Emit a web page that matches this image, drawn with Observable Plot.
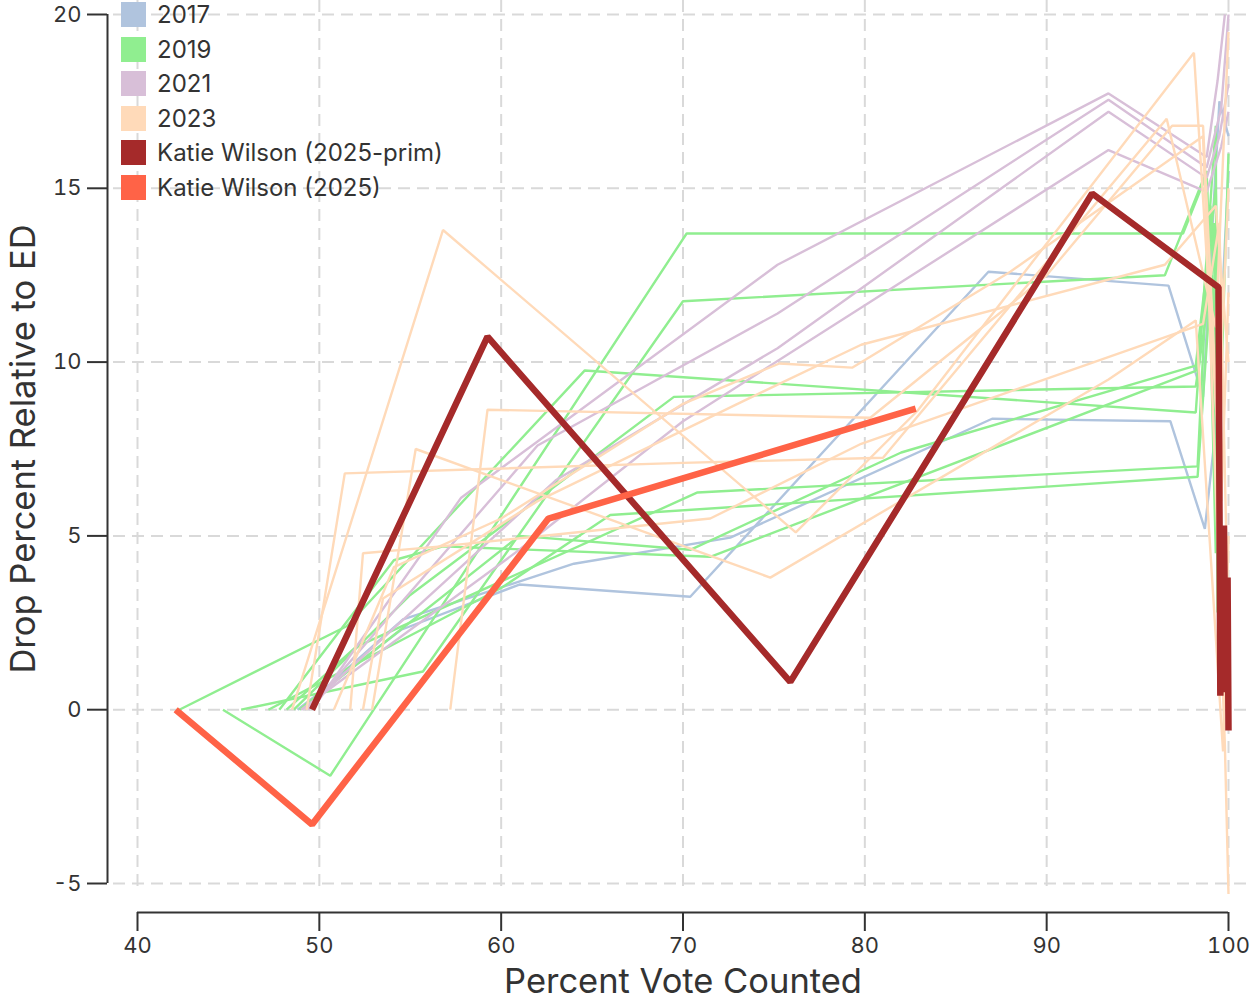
<!DOCTYPE html>
<html><head><meta charset="utf-8">
<script src="https://cdn.jsdelivr.net/npm/d3@7"></script>
<script src="https://cdn.jsdelivr.net/npm/@observablehq/plot@0.6"></script>
<style>
body{margin:0;background:#fff;font-family:Inter,"Noto Sans",sans-serif;}
#wrap{position:relative;width:1250px;height:1000px;overflow:hidden;}
#legend{position:absolute;left:121px;top:2px;}
.row{position:absolute;left:0;display:flex;align-items:center;white-space:nowrap;}
.sw{width:25px;height:25px;margin-right:11px;}
.lb{font-size:24px;color:#333;line-height:25px;}
</style></head>
<body><div id="wrap"><div id="chart"></div><div id="legend"></div></div>
<script>
const xTicks = [40,50,60,70,80,90,100];
const yTicks = [-5,0,5,10,15,20];
const groups = ["2017","2019","2021","2023","Katie Wilson (2025-prim)","Katie Wilson (2025)"];
const colors = ["#b0c4de","#90ee90","#d8bfd8","#ffdab9","#a52a2a","#ff6347"];

const lines2017 = [
  [[48.8,0],[54.5,2.3],[61,3.6],[70.4,3.25],[86.8,12.6],[96.7,12.2],[98.6,9.0],[99.5,17.5],[100,16.5]],
  [[49.0,0],[54.6,2.6],[64,4.2],[72.6,4.95],[87.0,8.37],[96.8,8.3],[98.7,5.2],[99.3,8.1],[100,15.5]]
];
const lines2019 = [
  [[42.3,0],[51.5,2.4],[64.6,9.76],[98.2,8.55],[99.3,16.8],[99.4,2.8]],
  [[44.7,0],[50.6,-1.9],[70.2,13.7],[97.5,13.7],[98.8,15.4],[99.6,1.5]],
  [[45.7,0],[55.7,1.1],[70.0,11.75],[96.5,12.5],[98.8,15.5],[99.3,4.5],[100,16]],
  [[48.6,0],[55,3.3],[69.5,9.0],[98.2,9.3],[99.1,12.5],[99.5,8]],
  [[47.8,0],[54.1,4.3],[56.8,4.7],[71.5,4.4],[98.2,9.75],[99.2,14],[99.5,6]],
  [[48.2,0],[52,1.8],[70.8,6.25],[98.3,7.0],[99.0,14.5],[99.6,10]],
  [[47.2,0],[60,3.5],[66,5.6],[98.3,6.7],[99.2,13.5],[99.5,4]],
  [[48.9,0],[61,5.0],[70.4,4.6],[82,7.4],[98.2,9.9],[99.3,15],[99.6,5]]
];
const lines2021 = [
  [[49.6,0],[57.8,6.1],[75.2,12.8],[93.4,17.73],[98.8,15.9],[99.4,18.1],[99.8,20.0]],
  [[49.4,0],[62,7.6],[75.2,11.4],[93.4,17.55],[98.8,15.6],[99.6,17.3],[100,20]],
  [[49.2,0],[63,6.6],[75.2,10.4],[93.4,17.2],[98.8,15.3],[99.5,16.5],[100,18]],
  [[49.0,0],[61,4.6],[70,8.3],[93.4,16.1],[98.8,14.9],[99.6,16.2],[100,17.2]]
];
const lines2023 = [
  [[49.3,0],[51.4,6.8],[70,7.1],[81,7.25],[96.6,17.0],[99.3,11],[100,19.5]],
  [[48.5,0],[56.8,13.8],[76.2,5.1],[82.9,8.6],[98.1,18.9],[99.4,8],[100,15]],
  [[57.2,0],[59.25,8.63],[80.3,8.4],[90,12.5],[96.9,16.8],[98.6,16.8],[99.6,6],[100,12]],
  [[52.9,0],[55.3,7.5],[74.8,3.8],[93.4,9.5],[98.2,11.2],[99.7,-1.2],[100,5]],
  [[51.7,0],[52.4,4.5],[56.7,4.7],[71.5,5.5],[79.8,7.65],[98.6,11.1],[99.5,14],[100,2]],
  [[50.8,0],[54.1,4.1],[60,5.5],[70,8.8],[75.3,9.96],[79.3,9.84],[88,12.6],[98.6,16.5],[99.8,-1],[100,-5.3]],
  [[52.4,0],[53.5,3.2],[62,6],[73,8.8],[79.8,10.5],[96.5,12.8],[99.3,14.5],[100,10]]
];
const linesPrim = [
  [[49.6,0],[59.25,10.73],[75.9,0.8],[92.5,14.85],[99.45,12.15],[99.55,0.4],[99.75,5.3],[99.85,0.5],[99.95,3.8],[100,-0.6]]
];
const lines2025 = [
  [[42.1,0],[49.6,-3.3],[62.6,5.5],[82.8,8.66]]
];

const allLines = [lines2017, lines2019, lines2021, lines2023, linesPrim, lines2025];
const data = [];
allLines.forEach((set, gi) => set.forEach((pts, li) => pts.forEach(([x, y]) =>
  data.push({group: groups[gi], id: gi + "-" + li, x, y}))));

const widths = [2.4, 2.4, 2.4, 2.4, 6.5, 6.5];
const lineMarks = groups.map((g, gi) => Plot.line(data.filter(d => d.group === g), {
  x: "x", y: "y", z: "id", stroke: colors[gi], strokeWidth: widths[gi],
  strokeLinejoin: "miter", strokeLinecap: "butt"
}));

const gridStyle = {stroke: "#d9d9d9", strokeOpacity: 1, strokeWidth: 2, strokeDasharray: "12,7"};

const chart = Plot.plot({
  width: 1250, height: 1000,
  marginLeft: 137, marginRight: 22, marginTop: 14, marginBottom: 117,
  style: {fontFamily: "Inter, 'Noto Sans', sans-serif", color: "#333", background: "white"},
  x: {domain: [40, 100]},
  y: {domain: [-5, 20]},
  marks: [
    Plot.gridX(xTicks, {...gridStyle, insetTop: -14, insetBottom: -10}),
    Plot.gridY(yTicks, {...gridStyle, insetLeft: -24, insetRight: -22}),
    ...lineMarks,
    Plot.axisX(xTicks, {tickSize: 19, dy: 29, tickPadding: 6, fontSize: 22, strokeWidth: 2, tickFormat: d => String(d), label: null}),
    Plot.axisY(yTicks, {tickSize: 20, dx: -30, tickPadding: 6, fontSize: 22, strokeWidth: 2, tickFormat: d => String(d), label: null}),
    Plot.ruleY([-5], {dy: 29, stroke: "#333", strokeWidth: 2}),
    Plot.ruleX([40], {dx: -30, stroke: "#333", strokeWidth: 2}),
    Plot.text(["Percent Vote Counted"], {text: d => d, frameAnchor: "bottom", dy: 85, lineAnchor: "top", fontSize: 34.5, fill: "#333"}),
    Plot.text(["Drop Percent Relative to ED"], {text: d => d, frameAnchor: "left", dx: -114, rotate: -90, textAnchor: "middle", lineAnchor: "middle", fontSize: 34.5, fill: "#333"})
  ]
});
document.getElementById("chart").appendChild(chart);

const legend = document.getElementById("legend");
groups.forEach((g, i) => {
  const row = document.createElement("div");
  row.className = "row";
  row.style.top = (i * 34.6) + "px";
  row.innerHTML = `<div class="sw" style="background:${colors[i]}"></div><div class="lb">${g}</div>`;
  legend.appendChild(row);
});
</script></body></html>
